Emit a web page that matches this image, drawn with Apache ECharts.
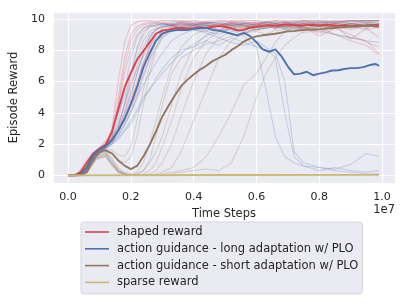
<!DOCTYPE html>
<html>
<head>
<meta charset="utf-8">
<script src="https://cdn.jsdelivr.net/npm/echarts@6/dist/echarts.min.js"></script>
<style>html,body{margin:0;padding:0;background:#fff;}#c{width:407px;height:305px;}</style>
</head>
<body>
<div id="c"></div>
<script>
// x values are in units of 1e7 time steps
const SERIES_NAMES = ['shaped reward', 'action guidance - long adaptation w/ PLO', 'action guidance - short adaptation w/ PLO', 'sparse reward'];
const X_TICKS = [0, 0.2, 0.4, 0.6, 0.8, 1.0];
const Y_TICKS = [0, 2, 4, 6, 8, 10];

const MEAN_X = [0,0.02,0.04,0.06,0.08,0.10,0.12,0.14,0.16,0.18,0.20,0.22,0.24,0.26,0.28,0.30,0.32,0.34,0.36,0.38,0.40,0.42,0.44,0.46,0.48,0.50,0.52,0.54,0.56,0.58,0.60,0.62,0.64,0.66,0.68,0.70,0.72,0.74,0.76,0.78,0.80,0.82,0.84,0.86,0.88,0.90,0.92,0.94,0.96,0.98,0.99];
const SHAPED_MEAN = [0,0,0.2,0.8,1.4,1.7,1.93,2.8,4.2,5.6,6.55,7.4,7.95,8.5,9.05,9.25,9.3,9.4,9.42,9.38,9.4,9.45,9.42,9.5,9.55,9.5,9.4,9.25,9.3,9.45,9.5,9.55,9.6,9.55,9.62,9.65,9.6,9.55,9.6,9.62,9.58,9.63,9.6,9.55,9.6,9.52,9.58,9.55,9.6,9.62,9.58];
const LONG_MEAN = [0,0,0.05,0.5,1.3,1.65,1.85,2.25,2.85,3.6,4.55,5.65,6.9,7.8,8.6,9.05,9.2,9.27,9.3,9.28,9.36,9.4,9.42,9.3,9.25,9.15,9.05,8.95,9.1,8.9,8.5,8.05,7.9,8.05,7.6,6.95,6.45,6.5,6.62,6.4,6.5,6.58,6.7,6.72,6.8,6.85,6.85,6.92,7.05,7.12,7.0];
const SHORT_MEAN = [0,0,0,0.2,1.05,1.5,1.6,1.4,0.95,0.62,0.4,0.6,1.2,1.95,2.8,3.75,4.45,5.1,5.7,6.1,6.45,6.75,7.0,7.3,7.5,7.7,8.0,8.25,8.55,8.75,8.88,8.95,9.0,9.05,9.12,9.2,9.22,9.28,9.3,9.32,9.33,9.38,9.4,9.45,9.48,9.5,9.52,9.55,9.58,9.52,9.5];
const SPARSE_X = [0, 0.5, 0.99];
const SPARSE_MEAN = [0, 0.02, 0.03];

const RUN_X = [0,0.03,0.06,0.09,0.12,0.14,0.16,0.18,0.2,0.22,0.24,0.26,0.28,0.3,0.33,0.36,0.4,0.44,0.48,0.52,0.56,0.6,0.63,0.66,0.69,0.72,0.75,0.8,0.85,0.9,0.95,0.99];
const SHAPED_RUNS = [
 [0,0,0.8,1.5,2,3,6,8.5,9.6,9.8,9.9,9.9,9.8,9.9,9.9,9.8,9.9,9.8,9.9,9.8,9.9,9.9,9.8,9.9,9.9,9.8,9.9,9.9,9.8,9.9,9.9,9.9],
 [0,0.1,1,1.6,2,2.8,5,7.5,9,9.5,9.7,9.8,9.7,9.8,9.6,9.8,9.7,9.2,9.6,9.8,9.5,9.7,9.8,9.6,9.8,9.7,9.9,9.6,9.8,9.7,9.8,9.7],
 [0,0,0.6,1.4,1.8,2.5,4.5,6.5,8,9,9.4,9.6,9.5,9.7,9.6,9.7,9.5,9.6,9.3,9.6,9.0,9.5,9.6,9.4,9.7,9.3,9.5,9.1,9.6,8.7,9.4,8.8],
 [0,0,0.7,1.6,2.2,2.6,4.0,5,6.5,8,9,9.5,9.6,9.7,9.6,9.8,9.7,9.8,9.6,9.7,9.8,9.6,9.7,9.8,9.7,9.6,9.8,9.7,9.8,9.9,9.8,9.9],
 [0,0,0.5,1.3,1.9,2.2,2.8,4,5.5,7,8.2,9,9.3,9.5,9.6,9.4,9.6,9.7,9.5,9.6,9.4,9.7,9.6,9.5,9.7,9.6,9.4,9.6,9.5,9.3,9.6,9.4],
 [0,0,0.6,1.5,2,2.4,3.2,4.5,5.8,6.8,7.6,8.4,9,9.3,9.5,9.6,9.5,9.7,9.6,9.8,9.6,9.7,9.5,9.6,9.4,9.7,9.5,8.9,9.4,9.0,8.5,8.2],
 [0,0,0.4,1.2,1.8,2.0,2.8,3.4,4.2,5.5,7,8.2,9,9.4,9.6,9.7,9.6,9.8,9.7,9.5,9.7,9.8,9.6,9.7,9.8,9.6,9.7,9.5,9.7,9.6,9.7,9.6],
 [0,0,0.5,1.4,2,2.3,3.0,3.6,4.4,5.2,6.5,7.5,8.6,9.2,9.5,9.6,9.7,9.6,9.5,9.7,9.6,9.4,9.6,9.7,9.5,9.6,9.3,9.5,9.0,8.6,8.3,7.7],
 [0,0,0.7,1.6,2.1,2.7,4.5,7,8.6,9.3,9.6,9.7,9.8,9.7,9.8,9.9,9.8,9.7,9.8,9.9,9.8,9.7,9.8,9.9,9.8,9.9,9.8,9.9,9.8,9.9,9.9,9.9],
 [0,0,0.6,1.5,1.9,2.3,2.9,3.6,4.8,6,7.2,8,8.6,9,9.3,9.5,9.4,9.6,9.5,9.7,9.5,9.6,9.7,9.4,9.6,9.5,9.7,9.6,9.4,9.5,9.3,9.5]
];
const LONG_RUNS = [
 [0,0,0.5,1.4,1.9,2.5,3.5,5.5,7.5,8.8,9.4,9.6,9.7,9.6,9.7,9.8,9.6,9.7,9.8,9.6,9.7,9.8,9.7,9.8,9.7,9.8,9.9,9.8,9.9,9.8,9.9,9.9],
 [0,0,0.4,1.3,1.8,2.2,3,4.5,6.5,8.2,9.2,9.5,9.6,9.7,9.5,9.7,9.6,9.8,9.7,9.6,9.7,9.6,9.8,9.7,9.6,9.8,9.7,9.8,9.7,9.9,9.8,9.9],
 [0,0,0.5,1.5,2,2.3,2.8,3.6,4.5,5.8,7.2,8.2,8.8,9.2,9.4,9.3,9.5,9.4,9.2,9.3,8.9,8.2,5.5,2.5,1.2,0.8,0.6,0.5,0.4,0.7,1.4,1.2],
 [0,0,0.4,1.4,1.9,2.1,2.5,3.2,4,5,6.3,7.4,8.2,8.8,9.2,9.4,9.3,9.1,8.8,8.5,8.3,8.6,8.2,7.5,4,1.2,0.6,0.3,0.5,0.3,0.2,0.3],
 [0,0,0.3,1.2,1.7,2,2.3,2.8,3.3,4,4.8,5.5,6.2,6.8,7.5,8,8.2,8.6,8.3,8.8,8.5,8.2,8,7.8,6,1.5,0.8,0.5,0.3,0.2,0.1,0.1],
 [0,0,0.5,1.5,2,2.4,3.2,4.5,6,7.5,8.6,9.2,9.4,9.5,9.6,9.5,9.7,9.6,9.5,9.7,9.6,9.4,9.6,9.7,9.5,9.6,9.7,9.5,9.6,9.7,9.5,9.6],
 [0,0,0.4,1.3,1.8,2.1,2.6,3.2,4,5,5.8,6.5,7.2,7.8,8.6,9,9.3,9.2,9,9.4,9.2,9.3,9.4,9.5,9.3,9.5,9.4,9.2,9.0,8.8,8.6,8.5],
 [0,0,0.5,1.4,1.9,2.3,3,4,5.2,6.5,7.8,8.8,9.3,9.5,9.6,9.4,9.6,9.5,9.3,9.5,9.6,9.3,9.5,9.6,9.4,9.2,9.5,9.3,9.6,9.5,9.4,9.7],
 [0,0,0.3,1.2,1.7,2,2.4,2.9,3.5,4.2,5,5.5,6,6.5,7.2,7.8,8.4,8.9,9.2,9.4,9.3,9.5,9.4,9.6,9.5,9.7,9.6,9.8,9.7,9.8,9.9,9.9],
 [0,0,0.4,1.3,1.8,2.2,2.8,3.8,5,6.5,7.8,8.8,9.3,9.6,9.7,9.6,9.8,9.7,9.6,9.8,9.7,9.6,9.8,9.7,9.8,9.7,9.6,9.8,9.7,9.6,9.7,9.8]
];
const SHORT_RUNS = [
 [0,0,0.3,1.4,1.6,1.4,1.0,0.8,1.2,2.5,4.5,6.5,8,8.8,9.3,9.5,9.6,9.5,9.7,9.6,9.7,9.6,9.8,9.7,9.8,9.7,9.8,9.7,9.8,9.7,9.8,9.7],
 [0,0,0.2,1.3,1.7,1.6,1.3,1.2,1.8,3.5,5.5,7,8.2,9,9.4,9.5,9.4,9.6,9.5,9.6,9.4,9.6,9.5,9.7,9.5,9.6,9.7,9.6,9.5,9.7,9.6,9.7],
 [0,0,0.3,1.4,1.5,1.1,0.5,0.2,0.1,0.2,0.8,2,3.5,5,7,8.2,9,9.3,9.5,9.4,9.6,9.5,9.6,9.4,9.6,9.5,9.7,9.6,9.5,9.7,9.6,9.5],
 [0,0,0.2,1.2,1.4,0.9,0.4,0.1,0,0.1,0.3,0.8,1.5,2.5,4.5,6.5,8.2,9,9.3,9.4,9.5,9.3,9.5,9.6,9.4,9.6,9.5,9.7,9.6,9.5,9.7,9.6],
 [0,0,0.3,1.3,1.5,1.0,0.3,0.1,0,0,0.1,0.3,0.8,1.8,3.5,5.5,7.5,8.6,9.2,9.4,9.3,9.5,9.4,9.6,9.5,9.4,9.6,9.5,9.7,9.6,9.5,9.6],
 [0,0,0.2,1.1,1.3,0.8,0.3,0.1,0,0,0,0.1,0.3,0.8,2,3.8,6,7.8,8.8,9.2,9.4,9.3,9.5,9.4,9.6,9.5,9.4,9.6,9.5,9.7,9.6,9.5],
 [0,0,0.2,1.2,1.4,0.8,0.2,0,0,0,0,0,0.1,0.2,0.5,1.5,3.5,5.5,7.5,8.6,9.1,9.3,9.4,9.5,9.3,9.5,9.4,9.6,9.5,9.4,9.6,9.5],
 [0,0,0.2,1.1,1.2,0.7,0.2,0,0,0,0,0,0,0.1,0.2,0.3,0.5,1.2,2.5,4,5.8,6.5,7.5,8.5,9.2,9.4,9.3,9.5,9.4,9.6,9.5,9.6],
 [0,0,0.1,1,1.2,0.6,0.2,0.1,0,0,0,0,0,0,0.1,0.2,0.3,0.4,0.3,0.8,2.5,5,6.5,7.5,8.3,8.8,9.2,9.4,9.5,9.6,9.5,9.6],
 [0,0,0.2,1.1,1.3,0.7,0.3,0.1,0,0.1,0.3,1,2.5,4.5,6.5,7.5,8,8.4,8.6,8.9,9.1,9.2,9.0,9.3,9.2,9.4,9.1,9.3,9.0,8.8,8.6,7.8]
];

const COLORS = ['#D9434B', '#4C72B0', '#937860', '#CCB974'];
const FAINT = ['rgba(217,67,75,0.24)', 'rgba(76,114,176,0.24)', 'rgba(147,120,96,0.24)'];
const FONT = 'DejaVu Sans';
const TXT = '#262626';

const pairs = (xs, ys) => xs.map((x, i) => [x, ys[i]]);
const series = [];
[SHAPED_RUNS, LONG_RUNS, SHORT_RUNS].forEach((runs, k) => {
  runs.forEach((r, j) => {
    series.push({
      name: 'run' + k + '_' + j, type: 'line', data: pairs(RUN_X, r),
      symbol: 'none', silent: true, z: 1,
      lineStyle: { color: FAINT[k], width: 1.1 }, itemStyle: { color: FAINT[k] }
    });
  });
});
const means = [pairs(MEAN_X, SHAPED_MEAN), pairs(MEAN_X, LONG_MEAN), pairs(MEAN_X, SHORT_MEAN), pairs(SPARSE_X, SPARSE_MEAN)];
means.forEach((d, k) => {
  series.push({
    name: SERIES_NAMES[k], type: 'line', data: d, symbol: 'none', z: 3 + k,
    lineStyle: { color: COLORS[k], width: 1.9 }, itemStyle: { color: COLORS[k] }
  });
});

const chart = echarts.init(document.getElementById('c'), null, { renderer: 'canvas' });
chart.setOption({
  animation: false,
  backgroundColor: '#ffffff',
  textStyle: { fontFamily: FONT },
  grid: { left: 49, top: 12, right: 12, bottom: 122, show: true, backgroundColor: '#EAEAF2', borderWidth: 0 },
  xAxis: {
    type: 'value', min: -0.048, max: 1.041, splitNumber: 5,
    axisLine: { show: false }, axisTick: { show: false },
    splitLine: { show: true, lineStyle: { color: '#ffffff', width: 1.2 } },
    axisLabel: {
      fontFamily: FONT, fontSize: 11, color: TXT, margin: 9,
      formatter: v => X_TICKS.some(t => Math.abs(t - v) < 1e-6) ? v.toFixed(1) : ''
    },
    name: 'Time Steps', nameLocation: 'middle', nameGap: 22,
    nameTextStyle: { fontFamily: FONT, fontSize: 11.5, color: TXT }
  },
  yAxis: {
    type: 'value', min: -0.49, max: 10.44, splitNumber: 5,
    axisLine: { show: false }, axisTick: { show: false },
    splitLine: { show: true, lineStyle: { color: '#ffffff', width: 1.2 } },
    axisLabel: {
      fontFamily: FONT, fontSize: 11, color: TXT, margin: 8,
      formatter: v => Y_TICKS.some(t => Math.abs(t - v) < 1e-6) ? String(Math.round(v)) : ''
    },
    name: 'Episode Reward', nameLocation: 'middle', nameGap: 25,
    nameTextStyle: { fontFamily: FONT, fontSize: 11.5, color: TXT }
  },
  legend: {
    orient: 'vertical', left: 81, top: 222,
    data: SERIES_NAMES.map(n => ({ name: n, icon: 'rect' })),
    itemWidth: 24, itemHeight: 1.6, itemGap: 3.8,
    padding: [3.5, 4, 5, 4],
    backgroundColor: '#EAEAF2', borderColor: '#D4D4DC', borderWidth: 1, borderRadius: 3,
    textStyle: { fontFamily: FONT, fontSize: 11.5, color: TXT, lineHeight: 13, padding: [0, 0, 0, 3] },
    selectedMode: false
  },
  graphic: [{
    type: 'text', right: 12, top: 204,
    style: { text: '1e7', font: '11.5px "DejaVu Sans"', fill: TXT }
  }],
  series: series
});
</script>
</body>
</html>
